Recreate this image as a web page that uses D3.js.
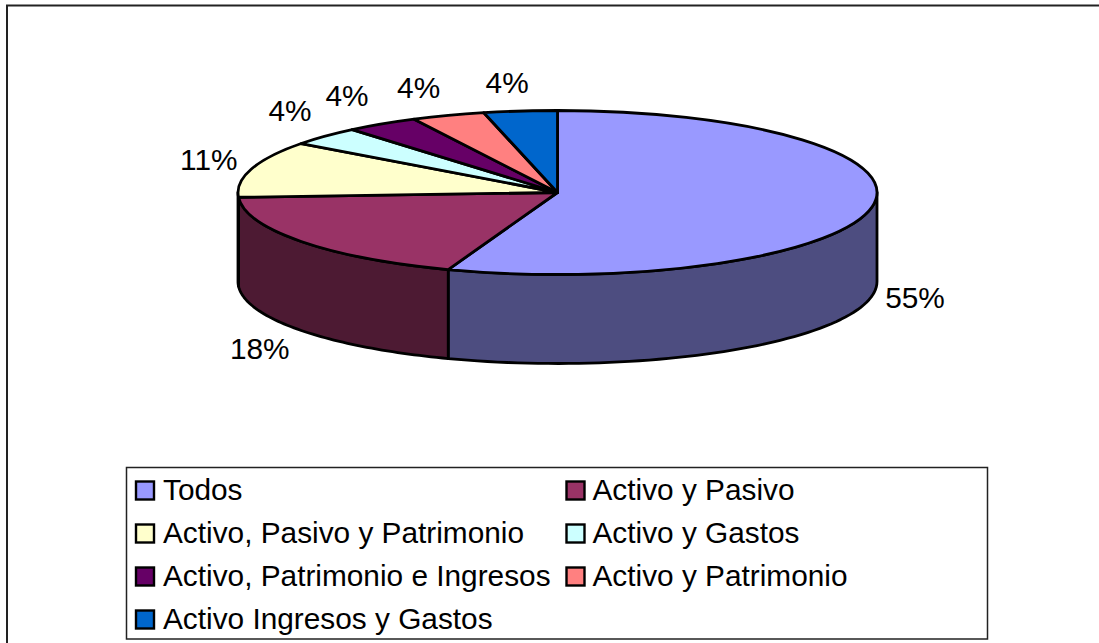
<!DOCTYPE html>
<html>
    <head>
        <meta charset="utf-8">
        <title>Pie 3D</title>
        <script src="https://d3js.org/d3.v7.min.js"></script>
        <style type="text/css">
            html, body {
                margin: 0;
                padding: 0;
                background: #fff;
                overflow: hidden;
            }
            svg {
                display: block;
            }
            text {
                font-family: "Liberation Sans", Arial, sans-serif;
                font-size: 29.8px;
                fill: #000;
            }
        </style>
    </head>
    <body>
        <svg id="chart" width="1099" height="643"></svg>
        <script>
            const categories = [
                "Todos", "Activo y Pasivo",
                "Activo, Pasivo y Patrimonio", "Activo y Gastos",
                "Activo, Patrimonio e Ingresos", "Activo y Patrimonio",
                "Activo Ingresos y Gastos"
            ];
            const counts = [15, 5, 3, 1, 1, 1, 1];
            const percentLabels = ["55%", "18%", "11%", "4%", "4%", "4%", "4%"];
            const topColors = ["#9999ff", "#993366", "#ffffcc", "#ccffff", "#660066", "#ff8080", "#0066cc"];

            const width = 1099;
            const height = 643;
            const cx = 557.5, cy = 192.5;   // centre of the top ellipse
            const rx = 319.5, ry = 82;
            const depth = 89;

            const svg = d3.select("#chart");

            // outer frame: only top and left edges are visible
            svg.append("path")
                .attr("d", `M${width},5.5H7V${height}`)
                .attr("fill", "none")
                .attr("stroke", "#222")
                .attr("stroke-width", 2);

            const arcs = d3.pie().sort(null).value(d => d)(counts);

            // angle (clockwise from the top) -> point on the flattened ellipse
            const px = a => cx + rx * Math.sin(a);
            const py = a => cy - ry * Math.cos(a);

            // side wall, only the front half of the ellipse is visible
            const wall = (a0, a1) => {
                const pts = d3.range(0, 61).map(i => a0 + (a1 - a0) * i / 60);
                const edge = d3.line().x(px).y(py);
                const lower = d3.line().x(px).y(a => py(a) + depth);
                return edge(pts) + "L" + lower(pts.slice().reverse()).slice(1) + "Z";
            };

            // the wall is the top colour at half brightness
            const shade = c => {
                const rgb = d3.rgb(c);
                return d3.rgb(rgb.r / 2, rgb.g / 2, rgb.b / 2);
            };

            const front = arcs
                .map(d => ({
                    i: d.index,
                    a0: Math.max(d.startAngle, Math.PI / 2),
                    a1: Math.min(d.endAngle, Math.PI * 1.5)
                }))
                .filter(d => d.a1 > d.a0);

            svg.append("g").selectAll("path")
                .data(front)
                .enter().append("path")
                    .attr("d", d => wall(d.a0, d.a1))
                    .attr("fill", d => shade(topColors[d.i]))
                    .attr("stroke", "#000")
                    .attr("stroke-width", 2.8)
                    .attr("stroke-linejoin", "round");

            // top face: a circular pie squeezed vertically
            const arc = d3.arc().innerRadius(0).outerRadius(rx);
            svg.append("g")
                .attr("transform", `translate(${cx},${cy}) scale(1,${ry / rx})`)
                .selectAll("path")
                .data(arcs)
                .enter().append("path")
                    .attr("d", arc)
                    .attr("fill", (d, i) => topColors[i])
                    .attr("stroke", "#000")
                    .attr("stroke-width", 2.8)
                    .attr("stroke-linejoin", "round")
                    .attr("vector-effect", "non-scaling-stroke");

            // labels sit on a larger ellipse around the pie, with small per-label nudges
            const nudge = [[-2, -3], [-5, 0], [1, -1], [-2, -5], [-10, -3], [-14, 0], [-8, 1]];
            const labelX = 365, labelY = 112;
            svg.append("g").selectAll("text")
                .data(arcs)
                .enter().append("text")
                    .attr("text-anchor", "middle")
                    .attr("dy", "0.35em")
                    .attr("x", (d, i) => {
                        const mid = (d.startAngle + d.endAngle) / 2;
                        return cx + labelX * Math.sin(mid) + nudge[i][0];
                    })
                    .attr("y", (d, i) => {
                        const mid = (d.startAngle + d.endAngle) / 2;
                        const drop = Math.cos(mid) < 0 ? depth : 0;
                        return cy - labelY * Math.cos(mid) + drop + nudge[i][1];
                    })
                    .text((d, i) => percentLabels[i]);

            // legend: 2 columns, filled row by row
            const legend = svg.append("g");
            legend.append("rect")
                .attr("x", 126.5).attr("y", 467.5)
                .attr("width", 861).attr("height", 171.5)
                .attr("fill", "#fff")
                .attr("stroke", "#222")
                .attr("stroke-width", 1.5);

            const colX = d3.scaleOrdinal().domain([0, 1]).range([136, 566.5]);
            const rowY = d3.scalePoint().domain([0, 1, 2, 3]).range([490, 619]);

            const item = legend.selectAll("g")
                .data(categories)
                .enter().append("g")
                    .attr("transform", (d, i) => `translate(${colX(i % 2)},${rowY(Math.floor(i / 2))})`);
            item.append("rect")
                .attr("x", 0).attr("y", -8.5)
                .attr("width", 18).attr("height", 18)
                .attr("fill", (d, i) => topColors[i])
                .attr("stroke", "#000")
                .attr("stroke-width", 2.4);
            item.append("text")
                .attr("x", (d, i) => i % 2 ? 26 : 27)
                .attr("dy", "0.35em")
                .text(d => d);
        </script>
    </body>
</html>
